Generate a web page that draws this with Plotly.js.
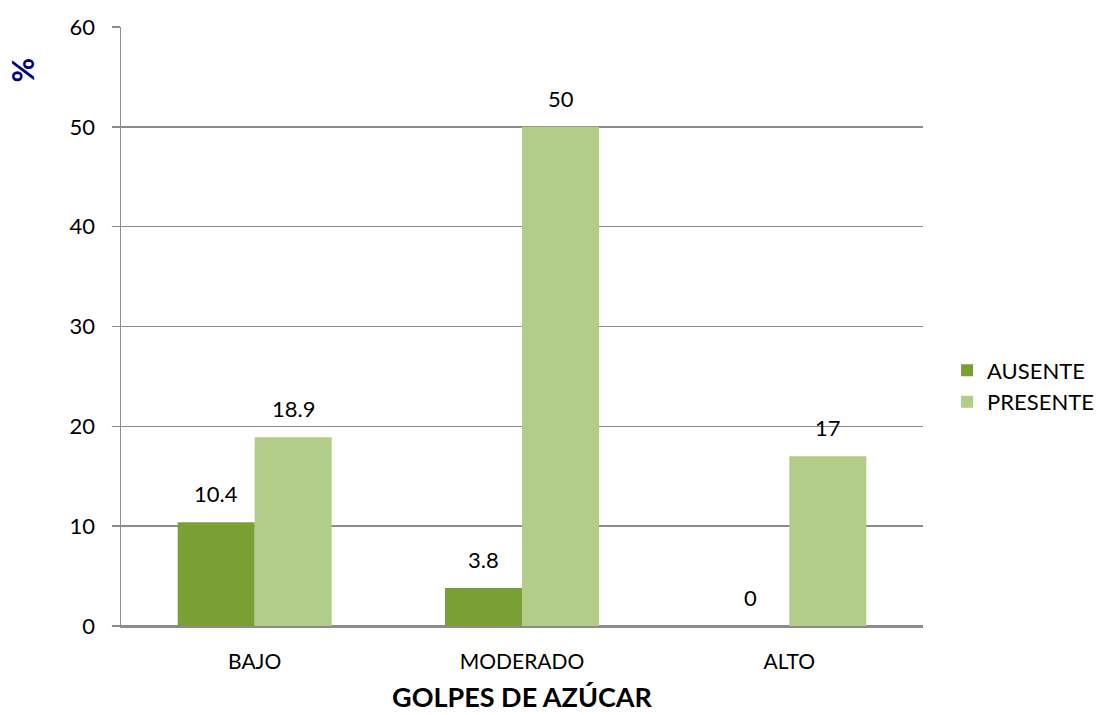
<!DOCTYPE html>
<html>
<head>
<meta charset="utf-8">
<script src="https://cdn.plot.ly/plotly-3.0.1.min.js"></script>
<style>
  html, body { margin: 0; padding: 0; background: #ffffff; }
  #chart { width: 1098px; height: 715px; }
</style>
</head>
<body>
<div id="chart"></div>
<script>
// Golpes de azúcar: porcentaje por nivel, según ausente / presente
const categories = ["BAJO", "MODERADO", "ALTO"];
const ausente = [10.4, 3.8, 0];
const presente = [18.9, 50, 17];
const yTicks = [0, 10, 20, 30, 40, 50, 60];

const FONT = "Lato, 'Open Sans', sans-serif";
const BARGAP = 0.424;

const series = [
  { name: "AUSENTE", values: ausente, color: "#7a9f35" },
  { name: "PRESENTE", values: presente, color: "#b2cd88" }
];

const traces = series.map(s => ({
  type: "bar",
  name: s.name,
  x: categories,
  y: s.values,
  marker: { color: s.color, line: { width: 0 } },
  hoverinfo: "skip"
}));

// Value labels above each bar, placed at the centre of its slot in the group
const slot = (1 - BARGAP) / series.length;
const labels = [];
series.forEach((s, k) => {
  const offset = -(1 - BARGAP) / 2 + slot * (k + 0.5);
  s.values.forEach((v, i) => {
    labels.push({
      xref: "x", yref: "y",
      x: i + offset, y: v,
      text: String(v),
      showarrow: false,
      xanchor: "center", yanchor: "bottom",
      yshift: 13,
      font: { family: FONT, size: 22, color: "#000000" }
    });
  });
});

const layout = {
  width: 1098,
  height: 715,
  margin: { l: 121, r: 175, t: 27, b: 89, autoexpand: false },
  paper_bgcolor: "#ffffff",
  plot_bgcolor: "#ffffff",
  font: { family: FONT, size: 22, color: "#000000" },
  barmode: "group",
  bargap: BARGAP,
  bargroupgap: 0,
  showlegend: true,
  legend: {
    x: 1.03, xanchor: "left",
    y: 0.40, yanchor: "middle",
    font: { family: FONT, size: 22, color: "#000000" },
    itemwidth: 30,
    tracegroupgap: 0
  },
  xaxis: {
    type: "category",
    range: [-0.5, 2.5],
    showgrid: false,
    showline: true,
    linecolor: "#8c8c8c",
    linewidth: 1.5,
    ticks: "",
    tickfont: { family: FONT, size: 21 },
    ticklabelstandoff: 16,
    title: {
      text: "GOLPES DE AZÚCAR",
      font: { family: FONT, size: 27, color: "#000000", weight: "bold" },
      standoff: 16
    }
  },
  yaxis: {
    range: [0, 60],
    tickvals: yTicks,
    ticktext: yTicks.map(String),
    showgrid: true,
    gridcolor: "#8c8c8c",
    gridwidth: 1.5,
    zeroline: true,
    zerolinecolor: "#8c8c8c",
    zerolinewidth: 1.5,
    showline: true,
    linecolor: "#8c8c8c",
    linewidth: 1.5,
    ticks: "outside",
    ticklen: 8,
    tickcolor: "#8c8c8c",
    tickwidth: 1.5,
    tickfont: { family: FONT, size: 22 },
    ticklabelstandoff: 12
  },
  annotations: labels.concat([
    {
      text: "<b>%</b>",
      xref: "paper", yref: "paper",
      x: -0.123, y: 0.928,
      xanchor: "center", yanchor: "middle",
      textangle: -90,
      showarrow: false,
      font: { family: FONT, size: 30, color: "#000080" }
    }
  ])
};

Plotly.newPlot("chart", traces, layout, { displayModeBar: false, staticPlot: true });
</script>
</body>
</html>
